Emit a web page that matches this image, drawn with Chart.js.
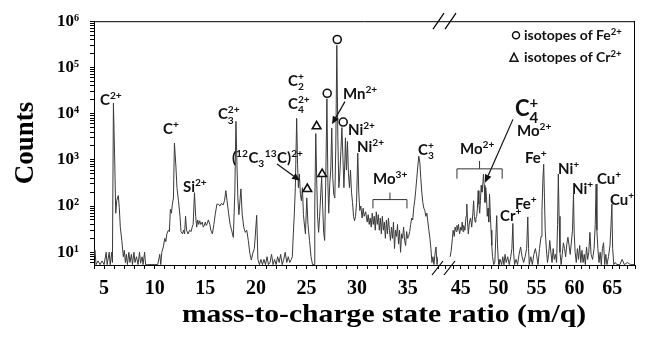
<!DOCTYPE html>
<html>
<head>
<meta charset="utf-8">
<script src="https://cdn.jsdelivr.net/npm/chart.js@4.4.1/dist/chart.umd.min.js"></script>
<style>
  html, body { margin: 0; padding: 0; background: #fff; }
  #wrap { width: 647px; height: 337px; }
</style>
</head>
<body>
<div id="wrap"><canvas id="spectrum"></canvas></div>
<script>
// Spectrum left of the axis break (m/q, counts)
const mqLow = [
    4.0, 4.1, 4.2, 4.4, 4.6, 4.8, 5.0, 5.2, 5.3, 5.5,
    5.6, 5.75, 5.82, 5.92, 6.05, 6.15, 6.25, 6.4, 6.5, 6.6,
    6.75, 6.9, 7.0, 7.1, 7.2, 7.3, 7.45, 7.55, 7.7, 7.8,
    7.95, 8.05, 8.2, 8.35, 8.5, 8.6, 8.75, 8.85, 9.0, 9.1,
    9.3, 10.3, 10.5, 10.6, 10.7, 10.85, 11.0, 11.1, 11.2, 11.35,
    11.45, 11.55, 11.65, 11.75, 11.85, 11.95, 12.1, 12.2, 12.35, 12.5,
    12.6, 12.75, 12.85, 12.95, 13.05, 13.15, 13.3, 13.45, 13.6, 13.7,
    13.8, 13.93, 14.05, 14.15, 14.25, 14.35, 14.45, 14.55, 14.7, 14.8,
    14.9, 15.0, 15.1, 15.2, 15.3, 15.45, 15.55, 15.7, 15.85, 16.0,
    16.15, 16.3, 16.45, 16.6, 16.75, 16.9, 17.03, 17.15, 17.3, 17.45,
    17.6, 17.77, 17.92, 18.03, 18.13, 18.22, 18.32, 18.52, 18.65, 18.8,
    18.95, 19.1, 19.25, 19.4, 19.55, 19.7, 19.85, 20.08, 20.2, 20.35,
    20.5, 20.65, 20.8, 20.95, 21.1, 21.25, 21.4, 21.55, 21.7, 21.85,
    22.0, 22.15, 22.3, 22.45, 22.6, 22.75, 22.9, 23.05, 23.2, 23.35,
    23.5, 23.6, 23.7, 23.8, 23.9, 24.03, 24.12, 24.2, 24.3, 24.4,
    24.5, 24.6, 24.7, 24.82, 24.9, 25.03, 25.15, 25.3, 25.45, 25.6,
    25.75, 25.82, 25.92, 26.02, 26.1, 26.2, 26.3, 26.42, 26.5, 26.6,
    26.7, 26.8, 26.9, 27.02, 27.12, 27.2, 27.3, 27.4, 27.5, 27.6,
    27.7, 27.8, 27.9, 28.0, 28.1, 28.2, 28.3, 28.4, 28.5, 28.6,
    28.7, 28.8, 28.85, 28.95, 29.05, 29.15, 29.25, 29.35, 29.45, 29.55,
    29.65, 29.75, 29.85, 29.95, 30.07, 30.17, 30.27, 30.37, 30.5, 30.6,
    30.7, 30.85, 31.0, 31.1, 31.2, 31.3, 31.4, 31.5, 31.6, 31.7,
    31.8, 31.9, 32.0, 32.1, 32.2, 32.3, 32.4, 32.5, 32.6, 32.7,
    32.8, 32.9, 33.0, 33.1, 33.2, 33.3, 33.4, 33.5, 33.6, 33.7,
    33.8, 33.9, 34.0, 34.1, 34.2, 34.3, 34.4, 34.5, 34.6, 34.7,
    34.8, 34.9, 35.0, 35.1, 35.2, 35.3, 35.4, 35.5, 35.6, 35.7,
    35.8, 35.9, 36.0, 36.1, 36.2, 36.3, 36.4, 36.5, 36.6, 36.7,
    36.8, 36.9, 37.0, 37.1, 37.2, 37.3, 37.4, 37.5, 37.6, 37.7,
    37.8, 37.9, 38.0
];
const countsLow = [
    8, 11, 5.4, 6.5, 5.4, 6.5, 5.4, 10, 5.4, 10,
    5.4, 10, 6, 17000, 900, 70, 132, 169, 94, 35,
    18, 8, 11, 6, 9, 5.4, 10, 6, 9, 5.4,
    10, 6, 8, 5.4, 10, 5.8, 8, 5.4, 10, 5.4,
    5.4, 5.4, 9, 5.4, 10, 13, 20, 17, 25, 30,
    28, 85, 70, 110, 150, 2300, 700, 250, 130, 60,
    28, 25, 30, 25, 60, 30, 25, 30, 28, 35,
    40, 195, 60, 35, 50, 40, 48, 40, 45, 35,
    38, 45, 38, 42, 50, 40, 30, 25, 40, 70,
    110, 110, 100, 115, 105, 130, 215, 130, 70, 40,
    30, 21, 200, 6800, 800, 150, 65, 235, 65, 35,
    27, 30, 18, 9.6, 6.8, 9.6, 12, 63, 7, 5.4,
    7, 5.4, 7, 5.4, 8, 5.4, 6, 9, 5.4, 7,
    5.4, 8, 6, 9, 5.4, 7, 10, 6, 8, 6,
    7, 8, 25, 70, 250, 7900, 800, 250, 490, 180,
    130, 250, 65, 35, 25, 150, 40, 18, 8, 5.4,
    5.4, 100, 3700, 300, 58, 27, 60, 200, 420, 100,
    27, 18, 300, 21000, 300, 70, 300, 600, 4900, 400,
    180, 150, 2000, 300000, 3000, 250, 500, 1500, 5000, 1200,
    250, 1000, 3000, 600, 2500, 500, 250, 600, 200, 120,
    60, 48, 60, 120, 1400, 200, 80, 100, 55, 90,
    60, 75, 45, 65, 40, 55, 35, 70, 40, 60,
    30, 75, 40, 65, 30, 55, 25, 60, 30, 45,
    20, 50, 25, 55, 30, 18, 35, 20, 45, 12,
    30, 22, 40, 15, 30, 10, 25, 20, 35, 18,
    14, 28, 20, 22, 28, 40, 55, 50, 90, 130,
    220, 400, 700, 1200, 900, 400, 200, 120, 90, 80,
    60, 70, 45, 30, 20, 12, 6, 8, 5.4, 9,
    13, 5.4, 8
];

// Spectrum right of the axis break
const mqHigh = [
    43.6, 43.75, 43.9, 44.0, 44.15, 44.25, 44.4, 44.5, 44.6, 44.7,
    44.85, 45.0, 45.1, 45.2, 45.3, 45.4, 45.55, 45.7, 45.8, 45.9,
    46.0, 46.15, 46.3, 46.45, 46.6, 46.7, 46.8, 46.9, 47.0, 47.1,
    47.2, 47.3, 47.4, 47.5, 47.6, 47.7, 47.8, 47.9, 48.0, 48.1,
    48.2, 48.3, 48.4, 48.5, 48.6, 48.7, 48.8, 48.9, 49.0, 49.1,
    49.2, 49.35, 49.5, 49.65, 49.75, 49.85, 49.95, 50.05, 50.2, 50.4,
    50.55, 50.7, 50.85, 51.0, 51.2, 51.4, 51.6, 51.75, 51.88, 51.98,
    52.1, 52.3, 52.5, 52.7, 52.9, 53.1, 53.3, 53.5, 53.7, 53.85,
    53.95, 54.05, 54.25, 54.45, 54.65, 54.85, 55.0, 55.2, 55.4, 55.6,
    55.72, 55.85, 55.95, 56.05, 56.15, 56.3, 56.45, 56.6, 56.75, 56.9,
    57.05, 57.2, 57.35, 57.5, 57.65, 57.78, 57.88, 57.98, 58.1, 58.25,
    58.4, 58.55, 58.7, 58.85, 59.0, 59.15, 59.3, 59.45, 59.75, 59.88,
    59.98, 60.1, 60.25, 60.4, 60.55, 60.7, 60.85, 61.0, 61.15, 61.3,
    61.45, 61.6, 61.75, 61.9, 62.05, 62.2, 62.4, 62.6, 62.75, 62.87,
    62.97, 63.1, 63.25, 63.4, 63.55, 63.7, 63.85, 64.0, 64.15, 64.3,
    64.5, 64.7, 64.82, 64.95, 65.05, 65.2, 65.4, 65.6, 66.0, 66.3,
    66.6, 67.0, 67.4, 67.9
];
const countsHigh = [
    8, 11, 20, 30, 22, 35, 28, 38, 30, 40,
    25, 35, 30, 45, 28, 38, 30, 60, 110, 45,
    25, 45, 55, 35, 70, 130, 60, 45, 55, 60,
    90, 215, 110, 70, 130, 280, 200, 280, 490, 280,
    120, 250, 160, 60, 90, 45, 180, 70, 30, 14,
    8, 5.4, 6, 25, 62, 15, 7, 5.4, 7, 5.4,
    8, 5.4, 9, 6, 8, 5.4, 8, 12, 42, 10,
    5.4, 7, 5.4, 9, 13, 8, 6, 8, 12, 58,
    12, 5.4, 8, 5.4, 9, 12, 9, 5.4, 12, 22,
    80, 400, 800, 150, 30, 12, 6, 9, 18, 10,
    6, 12, 7, 9, 6, 40, 490, 60, 10, 5.4,
    9, 16, 12, 8, 15, 21, 14, 9, 30, 180,
    25, 10, 6, 12, 7, 14, 6, 11, 6, 9,
    5.4, 13, 7, 10, 27, 9, 7, 12, 40, 300,
    30, 12, 6, 10, 5.4, 12, 16, 5.4, 9, 5.4,
    8, 14, 35, 110, 12, 5.4, 6, 5.4, 5.4, 7,
    5.4, 6, 5.4, 5.4
];

// Isotope markers above the peaks
const feIsoMq = [27.05, 28.04, 28.63];
const feIsoCounts = [27500, 402000, 6580];
const crIsoMq = [25.08, 26.0, 26.55];
const crIsoCounts = [234, 5320, 492];

// Axis ranges and ticks
const lowRange = [4, 38];
const highRange = [42, 68];
const countsRange = [5.3, 1e6];
const yDecades = [1, 2, 3, 4, 5, 6];
const xLabelEvery = 5;

// Peak labels: ^{..} superscript, _{..} subscript, | breaks stacking
const peakLabels = [
    { text: 'C^{2+}', axis: 'x1', mq: 4.59, counts: 15700 },
    { text: 'C^{+}', axis: 'x1', mq: 10.82, counts: 3590 },
    { text: 'Si^{2+}', axis: 'x1', mq: 12.79, counts: 206 },
    { text: 'C_{3}^{2+}', axis: 'x1', mq: 16.25, counts: 7510 },
    { text: '(^{12}C_{3}|^{13}C)^{2+}', axis: 'x1', mq: 17.64, counts: 859 },
    { text: 'C_{2}^{+}', axis: 'x1', mq: 23.17, counts: 40200 },
    { text: 'C_{4}^{2+}', axis: 'x1', mq: 23.17, counts: 12900 },
    { text: 'Mn^{2+}', axis: 'x1', mq: 28.6, counts: 21100 },
    { text: 'Ni^{2+}', axis: 'x1', mq: 29.1, counts: 3410 },
    { text: 'Ni^{2+}', axis: 'x1', mq: 29.99, counts: 1475 },
    { text: 'Mo^{3+}', axis: 'x1', mq: 31.57, counts: 305 },
    { text: 'C_{3}^{+}', axis: 'x1', mq: 36.02, counts: 1274 },
    { text: 'Mo^{2+}', axis: 'x2', mq: 44.9, counts: 1336 },
    { text: 'C_{4}^{+}', axis: 'x2', mq: 52.16, counts: 8710, size: 22 },
    { text: 'Mo^{2+}', axis: 'x2', mq: 52.42, counts: 3250 },
    { text: 'Cr^{+}', axis: 'x2', mq: 50.18, counts: 46.8 },
    { text: 'Fe^{+}', axis: 'x2', mq: 52.16, counts: 84.5 },
    { text: 'Fe^{+}', axis: 'x2', mq: 53.48, counts: 859 },
    { text: 'Ni^{+}', axis: 'x2', mq: 57.83, counts: 499 },
    { text: 'Ni^{+}', axis: 'x2', mq: 59.68, counts: 186 },
    { text: 'Cu^{+}', axis: 'x2', mq: 62.98, counts: 305 },
    { text: 'Cu^{+}', axis: 'x2', mq: 64.69, counts: 108 }
];

const arrows = [
    { axis: 'x1', from: [22.09, 817], to: [24.36, 353] },
    { axis: 'x1', from: [28.8, 18200], to: [27.52, 5870] },
    { axis: 'x2', from: [51.89, 7510], to: [48.2, 320] }
];

const brackets = [
    { axis: 'x1', from: 31.57, to: 34.93, counts: 138, endCounts: 89, tipCounts: 196 },
    { axis: 'x2', from: 44.5, to: 50.47, counts: 638, endCounts: 390, tipCounts: 946 }
];

const SUP = ['\u2070', '\u00b9', '\u00b2', '\u00b3', '\u2074', '\u2075', '\u2076'];
const SERIF = '"Liberation Serif", "DejaVu Serif", serif';
const SANS = 'Lato, "Noto Sans", sans-serif';
const INK = '#111';

// y tick marks at 1..9 x 10^n inside the range
const yTickValues = [];
[0].concat(yDecades).forEach(e => {
    for (let k = 1; k <= 9; k++) {
        const v = k * Math.pow(10, e);
        if (v >= countsRange[0] && v <= countsRange[1]) yTickValues.push(v);
    }
});

function toPoints(xs, ys) {
    return xs.map((x, i) => ({ x: x, y: ys[i] }));
}

// Draw text with sub/superscripts, starting at x on baseline y
function drawRich(ctx, str, x, y, size) {
    const parts = str.match(/_\{[^}]*\}|\^\{[^}]*\}|\||[^_^|]+/g);
    const small = size * 0.68;
    for (let i = 0; i < parts.length; i++) {
        const p = parts[i];
        if (p === '|') continue;
        if (p[0] === '_' || p[0] === '^') {
            const body = p.slice(2, -1);
            ctx.font = `bold ${small}px ${SANS}`;
            let w = ctx.measureText(body).width;
            ctx.fillText(body, x, p[0] === '_' ? y + size * 0.28 : y - size * 0.4);
            const next = parts[i + 1];
            if (p[0] === '_' && next && next[0] === '^') {
                const b2 = next.slice(2, -1);
                ctx.fillText(b2, x, y - size * 0.4);
                w = Math.max(w, ctx.measureText(b2).width);
                i++;
            }
            x += w + 0.5;
        } else {
            ctx.font = `bold ${size}px ${SANS}`;
            ctx.fillText(p, x, y);
            x += ctx.measureText(p).width;
        }
    }
}

function drawArrow(ctx, x1, y1, x2, y2) {
    const a = Math.atan2(y2 - y1, x2 - x1);
    const len = 8, half = 3.5;
    ctx.beginPath();
    ctx.moveTo(x1, y1);
    ctx.lineTo(x2 - Math.cos(a) * len, y2 - Math.sin(a) * len);
    ctx.stroke();
    ctx.beginPath();
    ctx.moveTo(x2, y2);
    ctx.lineTo(x2 - Math.cos(a) * len + Math.sin(a) * half, y2 - Math.sin(a) * len - Math.cos(a) * half);
    ctx.lineTo(x2 - Math.cos(a) * len - Math.sin(a) * half, y2 - Math.sin(a) * len + Math.cos(a) * half);
    ctx.closePath();
    ctx.fill();
}

// Frame, axis break, labels, arrows, brackets, inset legend, x title
const overlay = {
    id: 'overlay',
    afterDraw(chart) {
        const { ctx, chartArea: area, scales } = chart;
        const py = c => scales.y.getPixelForValue(c);
        ctx.save();
        ctx.strokeStyle = '#000';
        ctx.fillStyle = INK;
        ctx.lineWidth = 1;

        ctx.beginPath();
        ctx.moveTo(area.left, area.top + 0.5);
        ctx.lineTo(area.right, area.top + 0.5);
        ctx.moveTo(area.right - 0.5, area.top);
        ctx.lineTo(area.right - 0.5, area.bottom);
        ctx.stroke();

        const bx = scales.x2.left;
        ctx.lineWidth = 1.2;
        ctx.beginPath();
        [0, 12].forEach(dx => {
            ctx.moveTo(bx + dx - 5, area.top + 8);
            ctx.lineTo(bx + dx + 6, area.top - 8);
            ctx.moveTo(bx + dx - 6, area.bottom + 10);
            ctx.lineTo(bx + dx + 5, area.bottom - 4);
        });
        ctx.stroke();

        ctx.lineWidth = 1.2;
        ctx.strokeStyle = INK;
        arrows.forEach(a => {
            const s = scales[a.axis];
            drawArrow(ctx, s.getPixelForValue(a.from[0]), py(a.from[1]),
                s.getPixelForValue(a.to[0]), py(a.to[1]));
        });

        ctx.lineWidth = 1;
        ctx.strokeStyle = '#333';
        brackets.forEach(b => {
            const s = scales[b.axis];
            const x1 = s.getPixelForValue(b.from), x2 = s.getPixelForValue(b.to);
            const xm = (x1 + x2) / 2;
            ctx.beginPath();
            ctx.moveTo(x1, py(b.endCounts));
            ctx.lineTo(x1, py(b.counts));
            ctx.lineTo(x2, py(b.counts));
            ctx.lineTo(x2, py(b.endCounts));
            ctx.moveTo(xm, py(b.counts));
            ctx.lineTo(xm, py(b.tipCounts));
            ctx.stroke();
        });

        ctx.textAlign = 'left';
        ctx.textBaseline = 'alphabetic';
        peakLabels.forEach(l => {
            drawRich(ctx, l.text, scales[l.axis].getPixelForValue(l.mq), py(l.counts), l.size || 15);
        });

        // inset legend
        const lx = area.right - 111;
        ctx.strokeStyle = INK;
        ctx.lineWidth = 1.5;
        ctx.beginPath();
        ctx.arc(lx - 8, area.top + 14, 3.5, 0, Math.PI * 2);
        ctx.stroke();
        ctx.beginPath();
        ctx.moveTo(lx - 10, area.top + 32);
        ctx.lineTo(lx - 14, area.top + 40);
        ctx.lineTo(lx - 6, area.top + 40);
        ctx.closePath();
        ctx.stroke();
        drawRich(ctx, 'isotopes of Fe^{2+}', lx, area.top + 19, 14);
        drawRich(ctx, 'isotopes of Cr^{2+}', lx, area.top + 41, 14);

        // x title, widened like the original artwork
        ctx.font = `bold 26px ${SERIF}`;
        ctx.fillStyle = '#000';
        ctx.textAlign = 'center';
        ctx.translate(area.left + 290, 322);
        ctx.scale(1.14, 1);
        ctx.fillText('mass-to-charge state ratio (m/q)', 0, 0);
        ctx.restore();
    }
};

function xAxis(range, weight) {
    return {
        type: 'linear',
        position: 'bottom',
        stack: 'mq',
        stackWeight: weight,
        min: range[0],
        max: range[1],
        afterFit: s => { s.height = 72; },
        ticks: {
            stepSize: 1,
            autoSkip: false,
            maxRotation: 0,
            padding: 8,
            color: '#000',
            font: { family: SERIF, size: 20, weight: 'bold' },
            callback: v => (v % xLabelEvery === 0 ? String(v) : '')
        },
        grid: { drawOnChartArea: false, tickLength: 4, color: '#000' },
        border: { color: '#000', width: 1 }
    };
}

new Chart(document.getElementById('spectrum'), {
    type: 'line',
    data: {
        datasets: [
            {
                type: 'scatter',
                data: toPoints(feIsoMq, feIsoCounts),
                xAxisID: 'x1',
                pointStyle: 'circle',
                pointRadius: 4,
                pointBorderWidth: 1.6,
                pointBackgroundColor: '#fff',
                pointBorderColor: INK,
                order: 0
            },
            {
                type: 'scatter',
                data: toPoints(crIsoMq, crIsoCounts),
                xAxisID: 'x1',
                pointStyle: 'triangle',
                pointRadius: 5,
                pointBorderWidth: 1.6,
                pointBackgroundColor: '#fff',
                pointBorderColor: INK,
                order: 0
            },
            {
                data: toPoints(mqLow, countsLow),
                xAxisID: 'x1',
                borderColor: '#3a3a3a',
                borderWidth: 1,
                pointRadius: 0,
                tension: 0,
                order: 1
            },
            {
                data: toPoints(mqHigh, countsHigh),
                xAxisID: 'x2',
                borderColor: '#3a3a3a',
                borderWidth: 1,
                pointRadius: 0,
                tension: 0,
                order: 1
            }
        ]
    },
    options: {
        responsive: true,
        maintainAspectRatio: false,
        animation: false,
        layout: { padding: { top: 19, right: 12, left: 0, bottom: 0 } },
        plugins: { legend: { display: false }, tooltip: { enabled: false } },
        scales: {
            x1: xAxis(lowRange, 344),
            x2: xAxis(highRange, 197),
            y: {
                type: 'logarithmic',
                position: 'left',
                min: countsRange[0],
                max: countsRange[1],
                afterBuildTicks: s => { s.ticks = yTickValues.map(v => ({ value: v })); },
                afterFit: s => { s.width = 94; },
                ticks: {
                    autoSkip: false,
                    padding: 11,
                    color: '#000',
                    font: { family: SERIF, size: 17, weight: 'bold' },
                    callback: v => {
                        const e = Math.log10(v);
                        return Math.abs(e - Math.round(e)) < 1e-6 ? '10' + SUP[Math.round(e)] : '';
                    }
                },
                grid: { drawOnChartArea: false, tickLength: 4, color: '#000' },
                border: { color: '#000', width: 1 },
                title: {
                    display: true,
                    text: 'Counts',
                    color: '#000',
                    font: { family: SERIF, size: 27, weight: 'bold' },
                    padding: { top: 10, bottom: 0 }
                }
            }
        }
    },
    plugins: [overlay]
});
</script>
</body>
</html>
